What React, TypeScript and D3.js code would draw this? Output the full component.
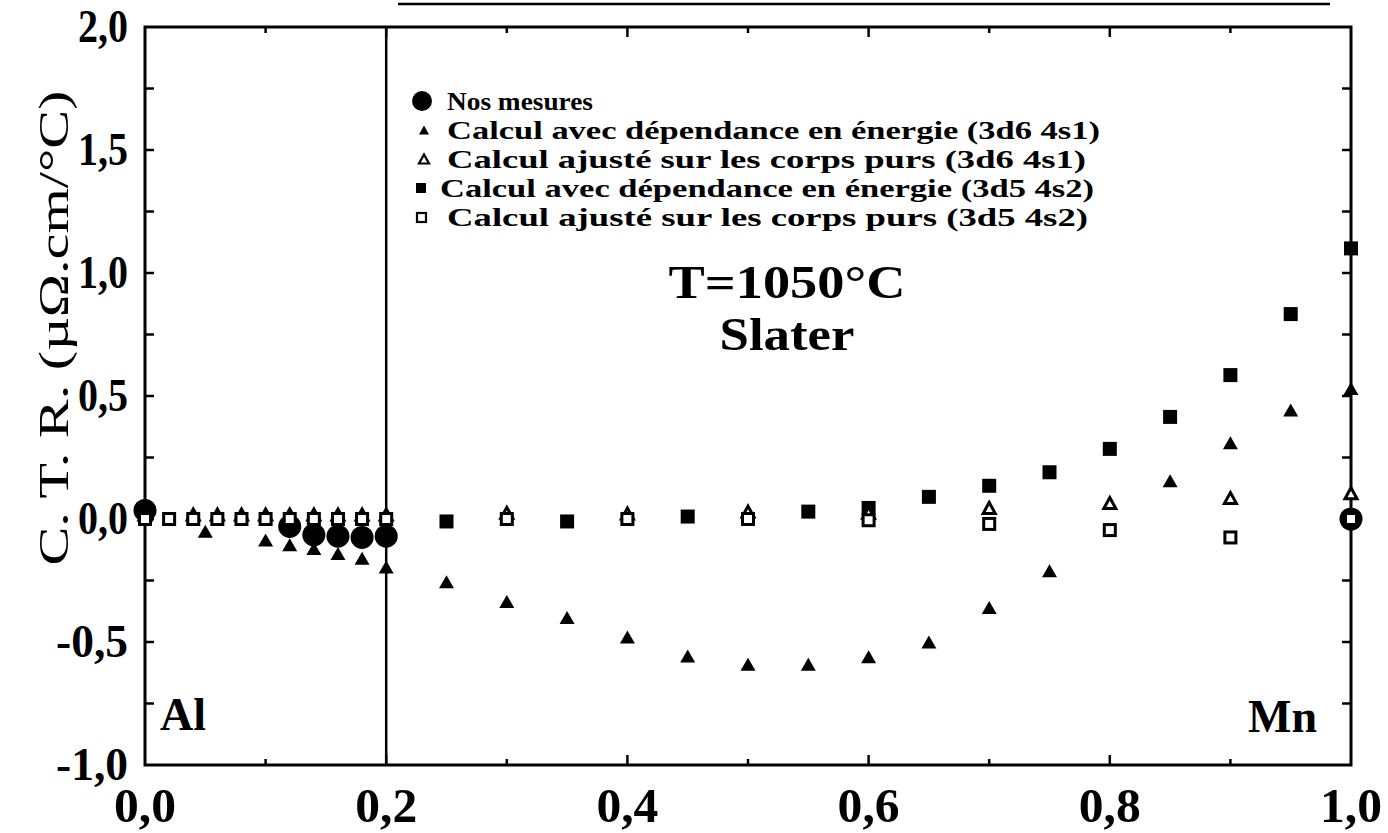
import * as d3 from "d3";

// concentration x (Mn) and C.T.R. values
const measX = [0, 0.12, 0.14, 0.16, 0.18, 0.2, 1.0];
const measY = [0.035, -0.03, -0.065, -0.07, -0.075, -0.07, 0.0];

const triFullX = [0.05, 0.1, 0.12, 0.14, 0.16, 0.18, 0.2, 0.25, 0.3, 0.35, 0.4, 0.45, 0.5, 0.55, 0.6, 0.65, 0.7, 0.75, 0.85, 0.9, 0.95, 1.0];
const triFullY = [-0.05, -0.085, -0.105, -0.12, -0.14, -0.16, -0.195, -0.255, -0.335, -0.4, -0.48, -0.557, -0.59, -0.59, -0.56, -0.5, -0.36, -0.21, 0.155, 0.31, 0.443, 0.53];

const triOpenX = [0, 0.04, 0.06, 0.08, 0.1, 0.12, 0.14, 0.16, 0.18, 0.2, 0.3, 0.4, 0.5, 0.6, 0.7, 0.8, 0.9, 1.0];
const triOpenY = [0.018, 0.018, 0.018, 0.018, 0.018, 0.018, 0.018, 0.018, 0.018, 0.018, 0.025, 0.022, 0.03, 0.025, 0.045, 0.065, 0.085, 0.105];

const sqFullX = [0.25, 0.35, 0.45, 0.55, 0.6, 0.65, 0.7, 0.75, 0.8, 0.85, 0.9, 0.95, 1.0];
const sqFullY = [-0.01, -0.01, 0.01, 0.03, 0.045, 0.09, 0.135, 0.19, 0.285, 0.415, 0.585, 0.833, 1.1];

const sqOpenX = [0, 0.02, 0.04, 0.06, 0.08, 0.1, 0.12, 0.14, 0.16, 0.18, 0.2, 0.3, 0.4, 0.5, 0.6, 0.7, 0.8, 0.9, 1.0];
const sqOpenY = [0, 0, 0, 0, 0, 0, 0, 0, 0, 0, 0, 0, 0, 0, -0.005, -0.02, -0.045, -0.075, 0];

const legendLabels = [
  "Nos mesures",
  "Calcul avec dépendance en énergie (3d6 4s1)",
  "Calcul ajusté sur les corps purs (3d6 4s1)",
  "Calcul avec dépendance en énergie (3d5 4s2)",
  "Calcul ajusté sur les corps purs (3d5 4s2)",
];
const legendWidths = [146, 653, 639, 654, 641];

const xTicks = [0, 0.2, 0.4, 0.6, 0.8, 1.0];
const xTickLabels = ["0,0", "0,2", "0,4", "0,6", "0,8", "1,0"];
const yTicks = [2, 1.5, 1, 0.5, 0, -0.5, -1];
const yTickLabels = ["2,0", "1,5", "1,0", "0,5", "0,0", "-0,5", "-1,0"];

const serif = "'Liberation Serif', 'Times New Roman', serif";

const tri = (w: number, h: number) => `M0,${-h / 2}L${w / 2},${h / 2}L${-w / 2},${h / 2}Z`;

export default function App() {
  const W = 1388, H = 833;
  const left = 145, right = 1351, top = 27, bottom = 765;

  const x = d3.scaleLinear().domain([0, 1]).range([left, right]);
  const y = d3.scaleLinear().domain([-1, 2]).range([bottom, top]);

  const minorX = d3.range(0.1, 1, 0.1);
  const minorY = d3.range(-0.75, 2, 0.25);

  return (
    <svg width={W} height={H} style={{ position: "absolute", left: 0, top: 0, background: "#fff" }}>
      {/* page rule from the scan */}
      <line x1={398} x2={1330} y1={4} y2={4} stroke="#000" strokeWidth={2.5} />

      {/* frame */}
      <rect x={left} y={top} width={right - left} height={bottom - top} fill="none" stroke="#000" strokeWidth={3} />
      <line x1={x(0.2)} x2={x(0.2)} y1={top} y2={bottom} stroke="#000" strokeWidth={2.5} />

      {/* ticks */}
      {minorX.map((t, i) => {
        const major = Math.round(t * 10) % 2 === 0;
        const len = major ? 10 : 6;
        return (
          <g key={"tx" + i} stroke="#000" strokeWidth={2.5}>
            <line x1={x(t)} x2={x(t)} y1={bottom} y2={bottom - len} />
            <line x1={x(t)} x2={x(t)} y1={top} y2={top + len} />
          </g>
        );
      })}
      {minorY.map((t, i) => (
        <g key={"ty" + i} stroke="#000" strokeWidth={2.5}>
          <line x1={left} x2={left + 9} y1={y(t)} y2={y(t)} />
          <line x1={right} x2={right - 9} y1={y(t)} y2={y(t)} />
        </g>
      ))}

      {/* tick labels */}
      {yTicks.map((t, i) => (
        <text key={"yl" + i} x={128} y={y(t) + 15} textAnchor="end" fontFamily={serif} fontWeight="bold" fontSize={46}
          textLength={yTickLabels[i].length > 3 ? 72 : 50} lengthAdjust="spacingAndGlyphs">
          {yTickLabels[i]}
        </text>
      ))}
      {xTicks.map((t, i) => (
        <text key={"xl" + i} x={x(t)} y={822} textAnchor="middle" fontFamily={serif} fontWeight="bold" fontSize={48}
          textLength={62} lengthAdjust="spacingAndGlyphs">
          {xTickLabels[i]}
        </text>
      ))}

      {/* y title */}
      <text transform={`translate(68,${328}) rotate(-90)`} textAnchor="middle" fontFamily={serif} fontSize={42}
        textLength={475} lengthAdjust="spacingAndGlyphs">
        C. T. R. (µΩ.cm/°C)
      </text>

      {/* annotations */}
      <text x={160} y={730} fontFamily={serif} fontWeight="bold" fontSize={46}>Al</text>
      <text x={1317} y={732} textAnchor="end" fontFamily={serif} fontWeight="bold" fontSize={46}>Mn</text>
      <text x={787} y={298} textAnchor="middle" fontFamily={serif} fontWeight="bold" fontSize={46}
        textLength={237} lengthAdjust="spacingAndGlyphs">T=1050°C</text>
      <text x={787} y={350} textAnchor="middle" fontFamily={serif} fontWeight="bold" fontSize={46}
        textLength={135} lengthAdjust="spacingAndGlyphs">Slater</text>

      {/* legend */}
      {legendLabels.map((lab, i) => {
        const cy = 101 + i * 29;
        let mark;
        if (i === 0) mark = <circle cx={422} cy={cy} r={10} fill="#000" />;
        else if (i === 1) mark = <path transform={`translate(424,${cy})`} d={tri(10, 9)} fill="#000" />;
        else if (i === 2) mark = <path transform={`translate(424,${cy})`} d={tri(10, 9)} fill="#fff" stroke="#000" strokeWidth={2.2} />;
        else if (i === 3) mark = <rect x={416} y={cy - 5} width={10} height={10} fill="#000" />;
        else mark = <rect x={417} y={cy - 4} width={9} height={9} fill="#fff" stroke="#000" strokeWidth={2.2} />;
        return (
          <g key={"lg" + i}>
            {mark}
            <text x={i === 3 ? 440 : 447} y={cy + 9} fontFamily={serif} fontWeight="bold" fontSize={26}
              textLength={legendWidths[i]} lengthAdjust="spacingAndGlyphs">
              {lab}
            </text>
          </g>
        );
      })}

      {/* data marks */}
      {measX.map((v, i) => (
        <circle key={"m" + i} cx={x(v)} cy={y(measY[i])} r={11.5} fill="#000" />
      ))}
      {triFullX.map((v, i) => (
        <path key={"tf" + i} transform={`translate(${x(v)},${y(triFullY[i])})`} d={tri(15, 13)} fill="#000" />
      ))}
      {sqFullX.map((v, i) => (
        <rect key={"sf" + i} x={x(v) - 7} y={y(sqFullY[i]) - 7} width={14} height={14} fill="#000" />
      ))}
      {triOpenX.map((v, i) => (
        <path key={"to" + i} transform={`translate(${x(v)},${y(triOpenY[i])})`} d={tri(12, 11)} fill="#fff" stroke="#000" strokeWidth={3} />
      ))}
      {sqOpenX.map((v, i) => (
        <rect key={"so" + i} x={x(v) - 5.5} y={y(sqOpenY[i]) - 5.5} width={11} height={11} fill="#fff" stroke="#000" strokeWidth={3} />
      ))}
    </svg>
  );
}
